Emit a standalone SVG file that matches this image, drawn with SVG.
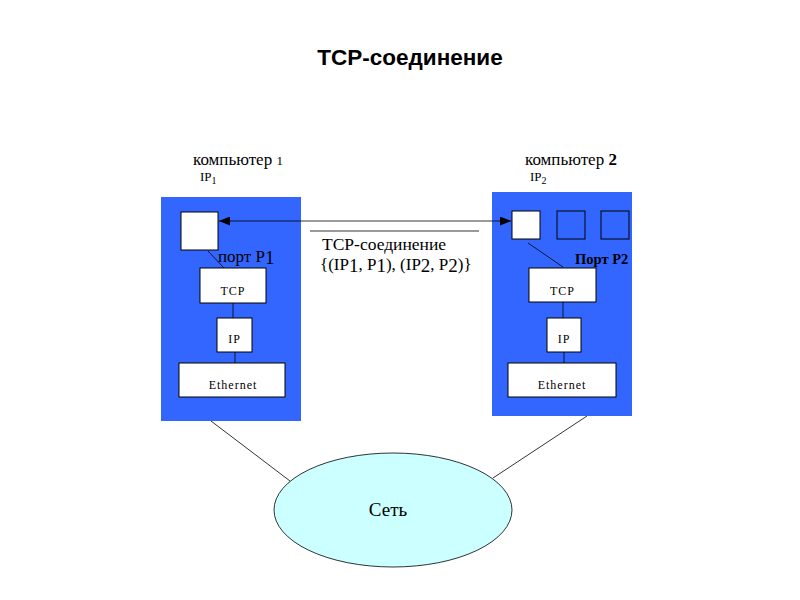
<svg xmlns="http://www.w3.org/2000/svg" width="800" height="600" viewBox="0 0 800 600">
<style>
.comp{fill:#3366ff;stroke:none}
.box{fill:#ffffff;stroke:#000;stroke-width:1}
.bport{fill:#3366ff;stroke:#000;stroke-width:1}
.ln{stroke:#000;stroke-width:0.8;fill:none}
.serif{fill:#000}
.small{font-size:12px;letter-spacing:1px;fill:#000}
</style>
<defs>
<marker id="ah" markerWidth="11" markerHeight="9" refX="11" refY="4.5" orient="auto-start-reverse" markerUnits="userSpaceOnUse">
<path d="M0,0 L11,4.5 L0,9 Z" fill="#000"/>
</marker>
</defs>
<rect width="800" height="600" fill="#fff"/>
<text x="410" y="65" text-anchor="middle" font-family="Liberation Sans, Arial, sans-serif" font-weight="bold" font-size="22.5">TCP-соединение</text>

<g id="computer1" font-family="Liberation Serif, Times New Roman, serif">
<rect class="comp" x="161" y="197" width="140" height="224"/>
<text class="serif" x="193" y="165" font-size="17">компьютер <tspan font-size="13">1</tspan></text>
<text class="serif" x="200" y="181" font-size="13">IP<tspan font-size="10" dy="3">1</tspan></text>
<rect id="port1" class="box" x="181" y="212" width="37" height="38"/>
<text class="serif" x="218" y="262" font-size="17">порт P<tspan font-size="19" dy="2">1</tspan></text>
<rect class="box" x="200" y="268" width="66" height="35"/>
<text class="small" x="233" y="295" text-anchor="middle">TCP</text>
<rect class="box" x="217" y="318" width="35" height="34"/>
<text class="small" x="234.5" y="343" text-anchor="middle">IP</text>
<rect class="box" x="179" y="363" width="106" height="34"/>
<text class="small" x="233" y="389" text-anchor="middle" letter-spacing="0.6">Ethernet</text>
</g>

<g id="computer2" font-family="Liberation Serif, Times New Roman, serif">
<rect class="comp" x="492" y="192" width="140" height="224"/>
<text class="serif" x="525" y="165" font-size="17">компьютер <tspan font-weight="bold">2</tspan></text>
<text class="serif" x="530" y="181" font-size="13">IP<tspan font-size="10" dy="3">2</tspan></text>
<rect id="port2" class="box" x="512" y="211" width="28" height="28"/>
<rect class="bport" x="557" y="211" width="28" height="28"/>
<rect class="bport" x="601" y="211" width="28" height="28"/>
<text class="serif" x="575" y="264" font-size="14.5" font-weight="bold">Порт P2</text>
<rect class="box" x="529" y="268" width="67" height="34"/>
<text class="small" x="562.5" y="295" text-anchor="middle">TCP</text>
<rect class="box" x="547" y="318" width="34" height="34"/>
<text class="small" x="564" y="343" text-anchor="middle">IP</text>
<rect class="box" x="508" y="363" width="108" height="34"/>
<text class="small" x="562" y="389" text-anchor="middle" letter-spacing="0.6">Ethernet</text>
</g>

<g id="network" font-family="Liberation Serif, Times New Roman, serif">
<ellipse cx="393" cy="510" rx="119" ry="57" fill="#ccffff" stroke="#000" stroke-width="0.8"/>
<text class="serif" x="388" y="516" font-size="19" text-anchor="middle">Сеть</text>
</g>

<g id="label" font-family="Liberation Serif, Times New Roman, serif">
<line x1="310" y1="231" x2="479" y2="231" stroke="#777" stroke-width="1.5"/>
<text class="serif" x="322" y="250" font-size="17.5">TCP-соединение</text>
<text class="serif" x="320" y="270" font-size="17">{(IP<tspan font-size="19" dy="2">1</tspan><tspan dy="-2">, P</tspan><tspan font-size="19" dy="2">1</tspan><tspan dy="-2">), (IP</tspan><tspan font-size="19" dy="2">2</tspan><tspan dy="-2">, P</tspan><tspan font-size="19" dy="2">2</tspan><tspan dy="-2">)}</tspan></text>
</g>

<g id="connectors">
<line class="ln" x1="219" y1="221" x2="511" y2="221" stroke-width="1" marker-start="url(#ah)" marker-end="url(#ah)"/>
<line class="ln" x1="208" y1="251" x2="224" y2="268"/>
<line class="ln" x1="233" y1="303" x2="233" y2="318"/>
<line class="ln" x1="235" y1="352" x2="235" y2="363"/>
<line class="ln" x1="528" y1="243" x2="563" y2="267"/>
<line class="ln" x1="563" y1="302" x2="563" y2="318"/>
<line class="ln" x1="564" y1="352" x2="564" y2="363"/>
<line class="ln" x1="211" y1="421" x2="290" y2="481"/>
<line class="ln" x1="587" y1="416" x2="493" y2="478"/>
</g>
</svg>
